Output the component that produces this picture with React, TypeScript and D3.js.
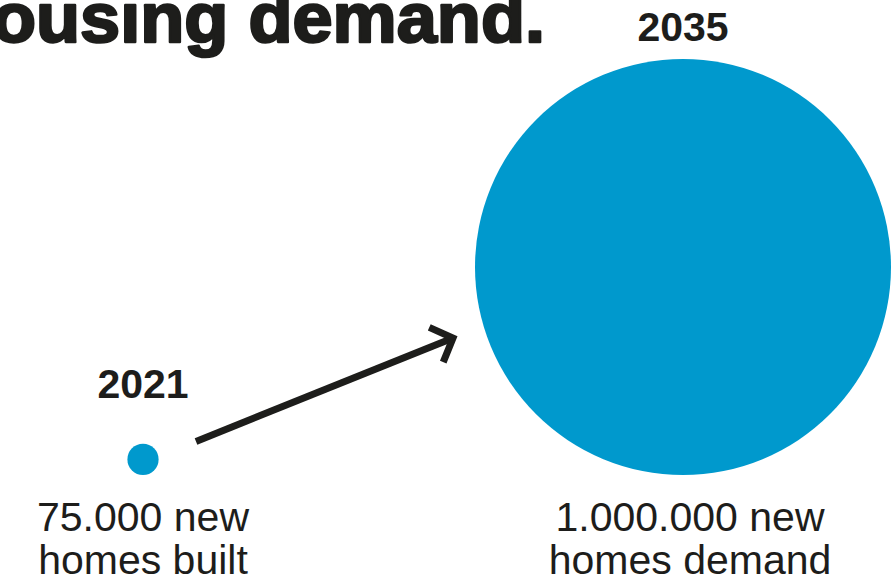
import React from "react";
import * as d3 from "d3";

const years: string[] = ["2021", "2035"];
const values: number[] = [75000, 1000000];
const labelLine1: string[] = ["75.000 new", "1.000.000 new"];
const labelLine2: string[] = ["homes built", "homes demand"];
const titleText = "ousing demand.";

const W = 893;
const H = 582;
const BLUE = "#0099cd";
const INK = "#1d1d1b";

export default function App() {
  const x = d3.scalePoint<string>().domain(years).range([143, 683]);
  const r = d3.scaleLinear().domain([0, 1000000]).range([0, 208]);
  const base = 475;
  const yearGap = [46, 18];
  const labelDx = [0, 7];

  const c0 = { x: x(years[0])!, y: base - r(values[0]), r: r(values[0]) };
  const c1 = { x: x(years[1])!, y: base - r(values[1]), r: r(values[1]) };

  const start: [number, number] = [c0.x + 53, c0.y - 18];
  const end: [number, number] = [c1.x - 230, c1.y + 71];
  const ang = Math.atan2(end[1] - start[1], end[0] - start[0]);
  const armLen = 26;
  const armAng = (46 * Math.PI) / 180;
  const a1: [number, number] = [end[0] - armLen * Math.cos(ang - armAng), end[1] - armLen * Math.sin(ang - armAng)];
  const a2: [number, number] = [end[0] - armLen * Math.cos(ang + armAng), end[1] - armLen * Math.sin(ang + armAng)];
  const line = d3.line();

  const circles = [c0, c1];

  return (
    <div style={{ position: "absolute", left: 0, top: 0, width: W, height: H, overflow: "hidden", background: "#fff" }}>
      <svg width={W} height={H} style={{ display: "block" }} fontFamily="'Liberation Sans', Arial, sans-serif">
        <text
          x={-8}
          y={42}
          textLength={553}
          lengthAdjust="spacingAndGlyphs"
          fontSize={70}
          fontWeight={700}
          fill={INK}
          stroke={INK}
          strokeWidth={2.5}
          strokeLinejoin="round"
        >
          {titleText}
        </text>
        {circles.map((c, i) => (
          <g key={years[i]}>
            <circle cx={c.x} cy={c.y} r={c.r} fill={BLUE} />
            <text
              x={c.x}
              y={c.y - c.r - yearGap[i]}
              textAnchor="middle"
              fontSize={41}
              fontWeight={700}
              fill={INK}
            >
              {years[i]}
            </text>
            <text x={c.x + labelDx[i]} y={531} textAnchor="middle" fontSize={41} fill={INK}>
              {labelLine1[i]}
            </text>
            <text x={c.x + labelDx[i]} y={574} textAnchor="middle" fontSize={41} fill={INK}>
              {labelLine2[i]}
            </text>
          </g>
        ))}
        <path d={line([start, end])!} stroke={INK} strokeWidth={7} fill="none" />
        <path d={line([a1, end, a2])!} stroke={INK} strokeWidth={7} fill="none" strokeLinejoin="miter" />
      </svg>
    </div>
  );
}
